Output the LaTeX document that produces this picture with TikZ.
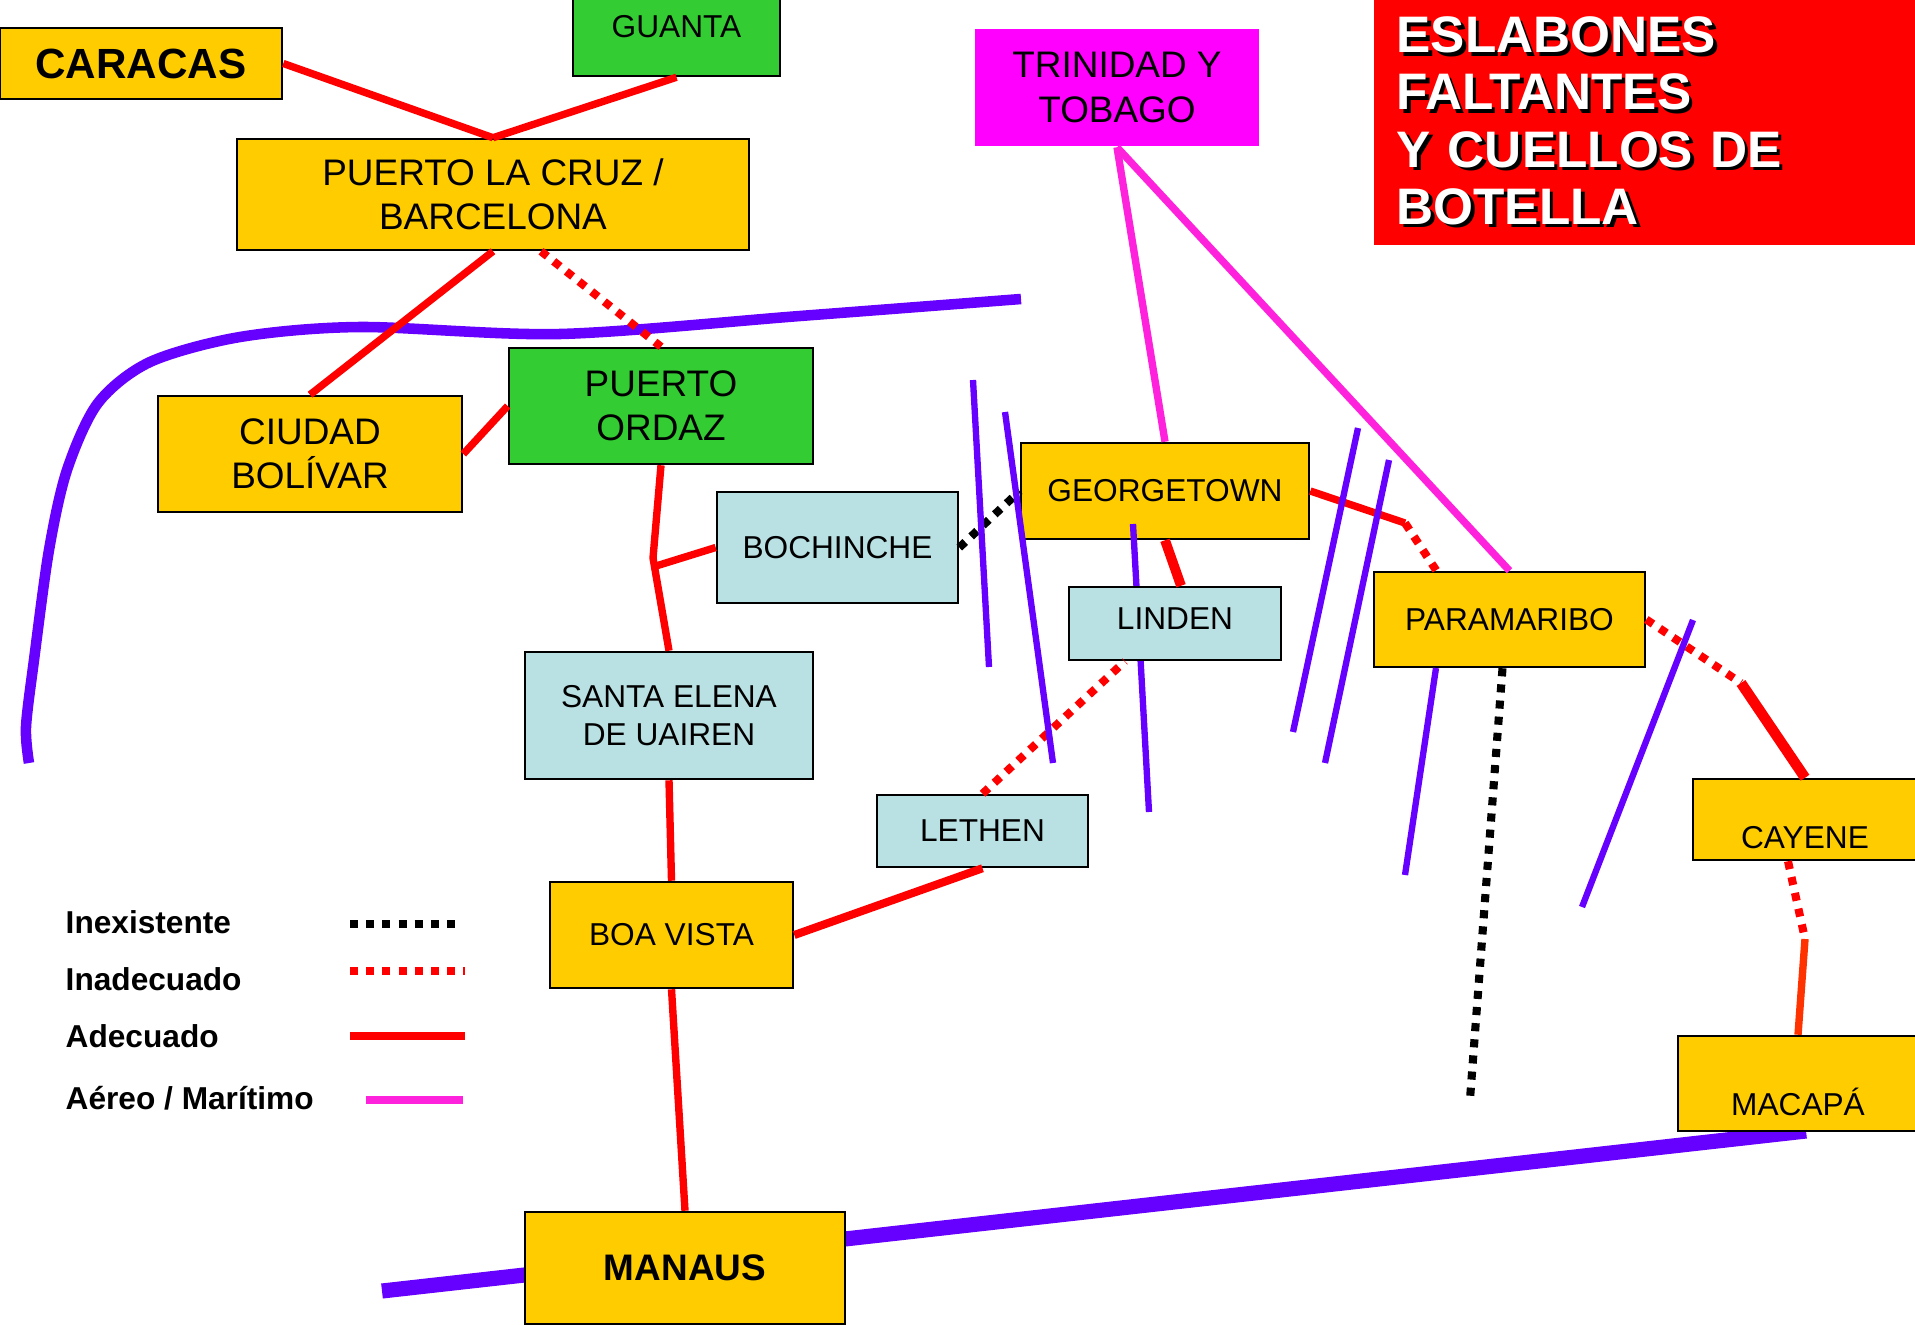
\documentclass[tikz,border=0pt]{standalone}
\usepackage{fontspec}
\setmainfont{Liberation Sans}
\usetikzlibrary{calc}
\definecolor{oro}{RGB}{255,204,0}
\definecolor{verde}{RGB}{51,204,51}
\definecolor{celeste}{RGB}{185,224,227}
\definecolor{rojo}{RGB}{255,0,0}
\definecolor{violeta}{RGB}{102,0,255}
\definecolor{fucsia}{RGB}{255,0,255}
\definecolor{rosa}{RGB}{255,34,221}
\definecolor{naranja}{RGB}{255,51,0}
\newcommand{\sombra}[1]{\makebox[0pt][l]{\kern1pt\raisebox{-1pt}{\color{black}#1}}#1}

\begin{document}
\begin{tikzpicture}[x=0.01cm,y=-0.01cm,
  caja/.style={draw,line width=0.7pt,fill=oro,inner sep=0pt,align=center,font=\fontsize{9}{10.8}\selectfont},
  grande/.style={font=\fontsize{10.5}{12.6}\selectfont},
  bueno/.style={draw=rojo,line width=2.1pt},
  malo/.style={draw=rojo,line width=2.3pt,dash pattern=on 2.3pt off 2.3pt},
  nada/.style={draw=black,line width=2.3pt,dash pattern=on 2.3pt off 2.3pt},
  aereo/.style={draw=rosa,line width=2.1pt},
  rio/.style={draw=violeta,line width=1.8pt},
  leyenda/.style={anchor=base west,inner sep=0pt,font=\bfseries\fontsize{9}{11}\selectfont}]
\useasboundingbox (0,0) rectangle (1915,1324);
% rios grandes
\draw[rio,line width=3pt] plot[smooth] coordinates {(1021,299) (800,316) (560,334) (360,327) (240,337) (150,362) (98,403) (67,470) (49,550) (34,660) (26,727) (29,763)};
\draw[rio,line width=4.3pt] (382,1291) -- (1806,1131);
% ciudades
\node[caja,minimum width=2.82cm,minimum height=0.71cm,font=\bfseries\fontsize{12}{14}\selectfont] (caracas) at (141,63.5) {CARACAS};
\node[caja,fill=verde,minimum width=2.07cm,minimum height=0.98cm] (guanta) at (676.5,27) {GUANTA};
\node[caja,grande,minimum width=5.12cm,minimum height=1.11cm] (plc) at (493,194.5) {PUERTO LA CRUZ /\\BARCELONA};
\node[caja,grande,draw=none,fill=fucsia,minimum width=2.84cm,minimum height=1.17cm] (trinidad) at (1117,87.5) {TRINIDAD Y\\TOBAGO};
\node[fill=rojo,anchor=north west,outer sep=0pt,minimum width=5.45cm,minimum height=2.45cm,text width=5.0cm,inner xsep=0.21cm,align=left,text=white,font=\bfseries\fontsize{14.6}{16.3}\selectfont] (titulo) at (1374,0) {\sombra{ESLABONES}\\\sombra{FALTANTES}\\\sombra{Y CUELLOS DE}\\\sombra{BOTELLA}};
\node[caja,grande,minimum width=3.04cm,minimum height=1.16cm] (bolivar) at (310,454) {CIUDAD\\BOLÍVAR};
\node[caja,grande,fill=verde,minimum width=3.04cm,minimum height=1.16cm] (ordaz) at (661,406) {PUERTO\\ORDAZ};
\node[caja,fill=celeste,minimum width=2.41cm,minimum height=1.11cm] (bochinche) at (837.5,547.5) {BOCHINCHE};
\node[caja,minimum width=2.88cm,minimum height=0.96cm] (georgetown) at (1165,491) {GEORGETOWN};
\node[caja,minimum width=2.71cm,minimum height=0.95cm] (paramaribo) at (1509.5,619.5) {PARAMARIBO};
\node[caja,fill=celeste,minimum width=2.88cm,minimum height=1.27cm] (elena) at (669,715.5) {SANTA ELENA\\DE UAIREN};
\node[caja,fill=celeste,minimum width=2.11cm,minimum height=0.72cm] (lethen) at (982.5,831) {LETHEN};
\node[caja,minimum width=2.24cm,minimum height=0.81cm,text height=0.578cm,text depth=0cm] (cayene) at (1805,819.5) {CAYENE};
\node[caja,minimum width=2.43cm,minimum height=1.06cm] (boavista) at (671.5,935) {BOA VISTA};
\node[caja,minimum width=2.40cm,minimum height=0.95cm,text height=0.638cm,text depth=0cm] (macapa) at (1798,1083.5) {MACAPÁ};
\node[caja,minimum width=3.20cm,minimum height=1.12cm,font=\bfseries\fontsize{10.5}{12.6}\selectfont] (manaus) at (685,1268) {MANAUS};
\draw[rio] (1133,524) -- (1149,812);
\node[caja,fill=celeste,minimum width=2.12cm,minimum height=0.73cm,text height=0.118cm,text depth=0cm] (linden) at (1175,623.5) {LINDEN};
% enlaces
\coordinate (cruce) at (653,558);
\coordinate (ramal) at (656,566);
\coordinate (k1) at (1405,523);
\coordinate (k2) at (1741,683);
\coordinate (k3) at (1805,939);
\coordinate (fin) at (1470,1099);
\path[bueno] (caracas.east) edge (plc.north);
\path[bueno] (guanta.south) edge (plc.north);
\path[bueno] (plc.south) edge (bolivar.north);
\path[malo] ([xshift=0.48cm]plc.south) edge (ordaz.north);
\path[bueno] (bolivar.east) edge (ordaz.west);
\draw[bueno] (ordaz.south) -- (cruce) -- (elena.north);
\path[bueno] (ramal) edge (bochinche.west);
\path[bueno] (elena.south) edge (boavista.north);
\path[bueno] (boavista.south) edge (manaus.north);
\path[bueno,line width=2.3pt] (boavista.east) edge (lethen.south);
\path[malo] (lethen.north) edge ([xshift=-0.5cm]linden.south);
\path[nada] (bochinche.east) edge (georgetown.west);
\path[bueno,line width=2.8pt] (georgetown.south) edge ([xshift=0.06cm]linden.north);
\path[bueno] (georgetown.east) edge (k1);
\path[malo] (k1) edge ([xshift=-0.73cm]paramaribo.north);
\path[aereo] (trinidad.south) edge (georgetown.north);
\path[aereo] (trinidad.south) edge (paramaribo.north);
\path[malo] (paramaribo.east) edge (k2);
\path[bueno,line width=3pt] (k2) edge (cayene.north);
\path[malo] ([xshift=-0.17cm]cayene.south) edge (k3);
\path[bueno,draw=naranja] (k3) edge (macapa.north);
\path[nada] ([xshift=-0.07cm]paramaribo.south) edge (fin);
% rios
\draw[rio] (973,380) -- (989,667);
\draw[rio] (1005,412) -- (1053,763);
\draw[rio] (1358,428) -- (1293,732);
\draw[rio] (1389,460) -- (1325,763);
\draw[rio] (1436,668) -- (1405,875);
\draw[rio] (1693,620) -- (1582,907);
% leyenda
\node[leyenda] (leyInex) at (65,933) {Inexistente};
\node[leyenda] (leyInad) at (65,990) {Inadecuado};
\node[leyenda] (leyAdec) at (65,1047) {Adecuado};
\node[leyenda] (leyAereo) at (65,1109) {Aéreo / Marítimo};
\draw[nada] (350,924) -- (463,924);
\draw[malo] (350,971) -- (465,971);
\draw[bueno,line width=2.3pt] (350,1036) -- (465,1036);
\draw[aereo,line width=2.3pt] (366,1100) -- (463,1100);
\end{tikzpicture}
\end{document}
